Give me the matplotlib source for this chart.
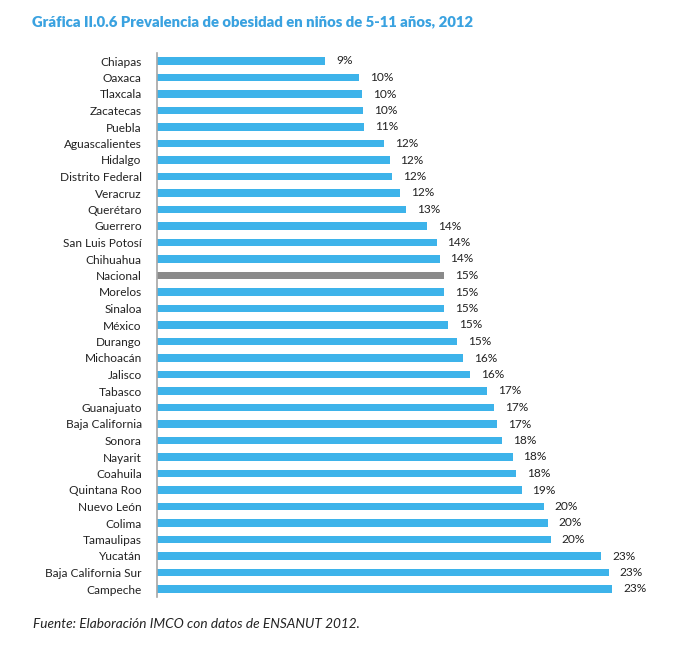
import matplotlib
matplotlib.use("Agg")
import matplotlib.pyplot as plt

estados = ["Chiapas", "Oaxaca", "Tlaxcala", "Zacatecas", "Puebla",
           "Aguascalientes", "Hidalgo", "Distrito Federal", "Veracruz",
           "Querétaro", "Guerrero", "San Luis Potosí", "Chihuahua",
           "Nacional", "Morelos", "Sinaloa", "México", "Durango",
           "Michoacán", "Jalisco", "Tabasco", "Guanajuato",
           "Baja California", "Sonora", "Nayarit", "Coahuila",
           "Quintana Roo", "Nuevo León", "Colima", "Tamaulipas",
           "Yucatán", "Baja California Sur", "Campeche"]
prevalencia = [8.55, 10.27, 10.41, 10.46, 10.54,
               11.55, 11.81, 11.96, 12.35,
               12.64, 13.72, 14.21, 14.35,
               14.57, 14.57, 14.60, 14.77, 15.23,
               15.55, 15.90, 16.78, 17.11,
               17.27, 17.52, 18.07, 18.24,
               18.52, 19.66, 19.86, 19.99,
               22.57, 22.96, 23.13]

plt.rcParams['font.family'] = ['Lato', 'DejaVu Sans']

AZUL = "#3db3ea"
GRIS = "#8a8a8a"

fig = plt.figure(figsize=(7, 6.48), dpi=100)
ax = fig.add_axes([157 / 700, 1 - 597.25 / 648, 503 / 700, 544.5 / 648])

y = list(range(len(estados)))
colores = [GRIS if e == "Nacional" else AZUL for e in estados]
ax.barh(y, prevalencia, height=0.44, color=colores, edgecolor="none")

for yi, v in zip(y, prevalencia):
    ax.text(v + 0.55, yi, f"{round(v)}%", va="center", ha="left",
            fontsize=8.6, color="#222222")

ax.set_yticks(y)
ax.set_yticklabels(estados, fontsize=8.6, color="#222222")
ax.set_ylim(len(estados) - 0.5, -0.5)
ax.set_xlim(0, 25.55)
ax.set_xticks([])
ax.tick_params(axis="y", length=0, pad=11)
for s in ["top", "right", "bottom"]:
    ax.spines[s].set_visible(False)
ax.spines["left"].set_color("#a6a6a6")
ax.spines["left"].set_linewidth(1.2)

fig.text(32 / 700, 1 - 22 / 648,
         "Gráfica II.0.6 Prevalencia de obesidad en niños de 5-11 años, 2012",
         fontsize=10.7, fontweight="heavy", color="#3aa2e0", va="center", ha="left")
fig.text(33 / 700, 1 - 624 / 648,
         "Fuente: Elaboración IMCO con datos de ENSANUT 2012.",
         fontsize=9.8, style="italic", color="#222222", va="center", ha="left")

fig.savefig("out.png", dpi=100)
